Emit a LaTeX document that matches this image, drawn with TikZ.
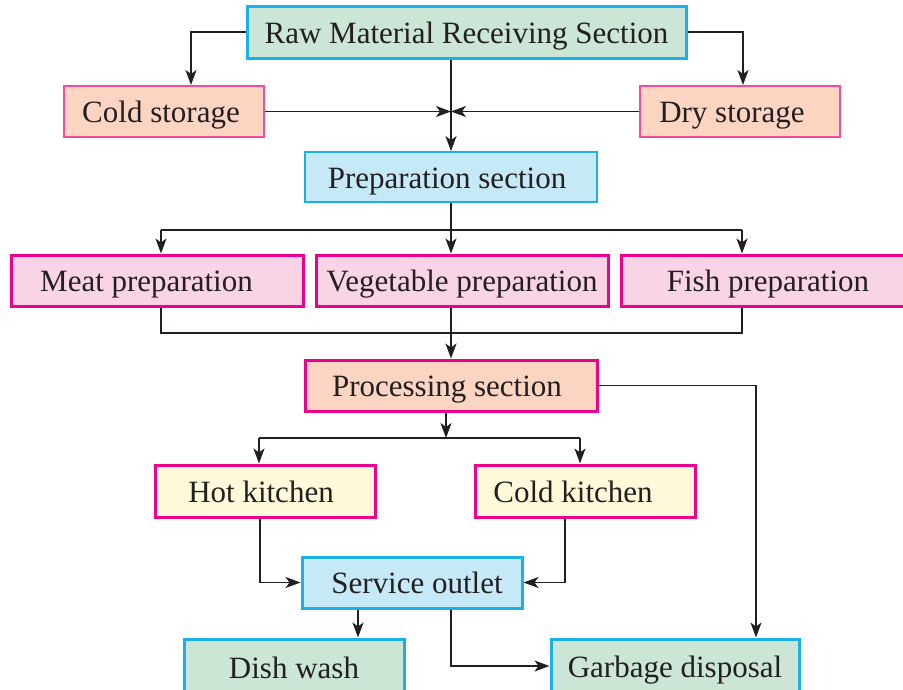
\documentclass[tikz,border=0pt]{standalone}
\usepackage{fontspec}
\setmainfont{Liberation Serif}
\usetikzlibrary{arrows.meta,calc}
\definecolor{ink}{HTML}{231F20}
\definecolor{gfill}{HTML}{CCE6D6}
\definecolor{cyanb}{HTML}{1AB0EA}
\definecolor{peach}{HTML}{FBD4C2}
\definecolor{magl}{HTML}{F04E98}
\definecolor{magd}{HTML}{EC008C}
\definecolor{bfill}{HTML}{C6E9F8}
\definecolor{pfill}{HTML}{F9D3E6}
\definecolor{yfill}{HTML}{FEF9D8}
\tikzset{
  box/.style={rectangle, inner sep=0pt, text=ink, text height=22pt, text depth=0pt, font=\fontsize{31}{36}\selectfont},
  greenbox/.style={box, fill=gfill, draw=cyanb, line width=3pt},
  peachthin/.style={box, fill=peach, draw=magl, line width=2pt},
  peachthick/.style={box, fill=peach, draw=magd, line width=3pt},
  bluethin/.style={box, fill=bfill, draw=cyanb, line width=1.8pt},
  bluethick/.style={box, fill=bfill, draw=cyanb, line width=3pt},
  pinkbox/.style={box, fill=pfill, draw=magd, line width=3pt},
  yellowbox/.style={box, fill=yfill, draw=magd, line width=3pt},
  conn/.style={draw=ink, line width=1.3pt},
  arr/.style={conn, -{Stealth[length=15pt,width=11pt,inset=4pt]}},
}
\begin{document}
\begin{tikzpicture}[x=1pt,y=-1pt]
\useasboundingbox (0,0) rectangle (903,689);
% nodes
\node[greenbox, minimum width=439pt, minimum height=52pt] (raw) at (466.5,32) {Raw Material Receiving Section};
\node[peachthin, minimum width=200pt, minimum height=51pt] (cold) at (164,111.5) {Cold storage\hspace*{6pt}};
\node[peachthin, minimum width=200pt, minimum height=51pt] (dry) at (740,111.5) {Dry storage\hspace*{16pt}};
\node[bluethin, minimum width=292pt, minimum height=50pt] (prep) at (451,177) {Preparation section\hspace*{8pt}};
\node[pinkbox, minimum width=292pt, minimum height=51pt] (meat) at (157,280.5) {Meat preparation\hspace*{21pt}};
\node[pinkbox, minimum width=292pt, minimum height=51pt] (veg) at (462,280.5) {Vegetable preparation};
\node[pinkbox, minimum width=294pt, minimum height=51pt] (fish) at (768,280.5) {Fish preparation};
\node[peachthick, minimum width=292pt, minimum height=51pt] (proc) at (451,385.5) {Processing section\hspace*{8pt}};
\node[yellowbox, minimum width=220pt, minimum height=52pt] (hot) at (265,491) {Hot kitchen\hspace*{8pt}};
\node[yellowbox, minimum width=220pt, minimum height=52pt] (coldk) at (585,491) {Cold kitchen\hspace*{24pt}};
\node[bluethick, minimum width=220pt, minimum height=51pt] (serv) at (412,582.5) {\hspace*{10pt}Service outlet};
\node[greenbox, minimum width=220pt, minimum height=56pt] (dish) at (294,667) {Dish wash};
\node[greenbox, minimum width=248pt, minimum height=54pt] (garb) at (675,666) {Garbage disposal};
% junction coordinates
\coordinate (j1) at (prep.north |- cold.east);
\coordinate (b1) at (451,230);
\coordinate (m1) at (161,230);
\coordinate (f1) at (742,230);
\coordinate (m2) at (161,333);
\coordinate (f2) at (742,333);
\coordinate (p1) at (446,438);
\coordinate (h1) at (259,438);
\coordinate (c1) at (580,438);
% connectors
\draw[arr] (raw.west) -| ([xshift=27pt]cold.north);
\draw[arr] (raw.east) -| ([xshift=3pt]dry.north);
\draw[arr] (prep.north |- raw.south) -- (prep.north);
\draw[arr] (cold.east) -- (j1);
\draw[arr] (dry.west) -- (j1);
\draw[conn] (prep.south) -- (b1);
\draw[conn] (m1) -- (f1);
\draw[arr] (m1) -- (m1 |- meat.north);
\draw[arr] (b1) -- (b1 |- veg.north);
\draw[arr] (f1) -- (f1 |- fish.north);
\draw[conn] (m2 |- meat.south) -- (m2) -- (f2) -- (f2 |- fish.south);
\draw[arr] (proc.north |- veg.south) -- (proc.north);
\draw[arr] (proc.east) -| ([xshift=81pt]garb.north);
\draw[arr] (p1 |- proc.south) -- (p1);
\draw[conn] (h1) -- (c1);
\draw[arr] (h1) -- (h1 |- hot.north);
\draw[arr] (c1) -- (c1 |- coldk.north);
\draw[arr] ([xshift=-5pt]hot.south) |- (serv.west);
\draw[arr] ([xshift=-20pt]coldk.south) |- (serv.east);
\draw[arr] ([xshift=-54pt]serv.south) -- ([xshift=-54pt]serv.south |- dish.north);
\draw[arr] ([xshift=39pt]serv.south) |- (garb.west);
\end{tikzpicture}
\end{document}
